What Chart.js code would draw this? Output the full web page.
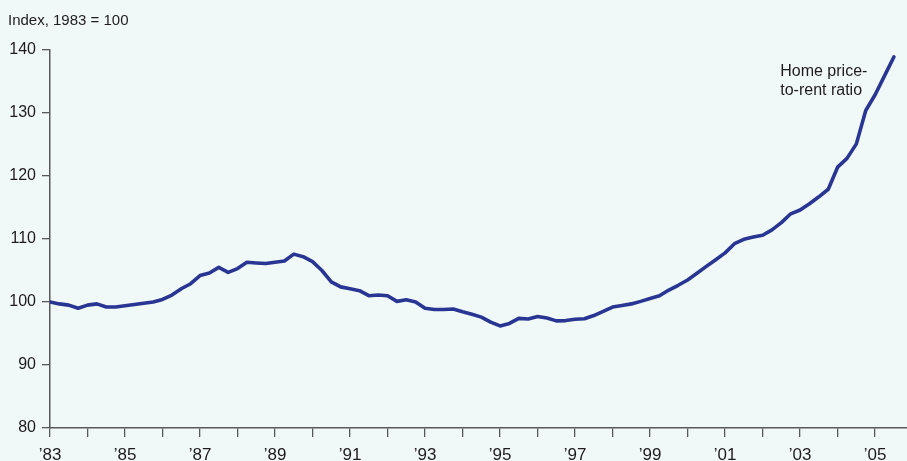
<!DOCTYPE html>
<html>
<head>
<meta charset="utf-8">
<script src="https://cdn.jsdelivr.net/npm/chart.js@4"></script>
<style>
  html, body { margin: 0; padding: 0; background: #f1f8f8; }
  #wrap { width: 907px; height: 461px; position: relative; }
</style>
</head>
<body>
<div id="wrap"><canvas id="ratioChart" width="907" height="461"></canvas></div>
<script>
// quarterly series, 1983Q1 .. 2005Q3
const startYear = 1983;
const ratioValues = [
  100.0, 99.7, 99.5, 99.0, 99.5, 99.7, 99.2, 99.2,
  99.4, 99.6, 99.8, 100.0, 100.4, 101.1, 102.1, 102.9,
  104.2, 104.6, 105.5, 104.7, 105.3, 106.3, 106.2, 106.1,
  106.3, 106.5, 107.6, 107.2, 106.4, 105.0, 103.2, 102.4,
  102.1, 101.8, 101.0, 101.1, 101.0, 100.1, 100.35, 100.0,
  99.0, 98.8, 98.8, 98.9, 98.45, 98.05, 97.6, 96.8,
  96.2, 96.6, 97.4, 97.3, 97.7, 97.45, 97.0, 97.05,
  97.25, 97.35, 97.85, 98.5, 99.2, 99.45, 99.7, 100.1,
  100.55, 101.0, 101.9, 102.65, 103.5, 104.55, 105.65, 106.7,
  107.8, 109.25, 109.95, 110.3, 110.6, 111.45, 112.6, 114.0,
  114.6, 115.6, 116.7, 117.9, 121.4, 122.8, 125.1, 130.4,
  132.9, 135.9, 138.9
];
const yTicks = [80, 90, 100, 110, 120, 130, 140];
const xTickYears = [1983, 1984, 1985, 1986, 1987, 1988, 1989, 1990, 1991, 1992, 1993, 1994,
  1995, 1996, 1997, 1998, 1999, 2000, 2001, 2002, 2003, 2004, 2005];
const unitLabel = 'Index, 1983 = 100';
const seriesLabel = ['Home price-', 'to-rent ratio'];

const font = "'Liberation Sans Narrow', 'Liberation Sans', Arial, sans-serif";
const ink = '#1f1c1d';
const axisGray = '#58595b';

const points = ratioValues.map((v, i) => ({ x: startYear + i / 4, y: v }));

const textPlugin = {
  id: 'textPlugin',
  afterDraw(chart) {
    const ctx = chart.ctx;
    const xs = chart.scales.x, ys = chart.scales.y;
    ctx.save();
    ctx.fillStyle = ink;
    ctx.textAlign = 'left';
    ctx.textBaseline = 'alphabetic';
    ctx.font = '15px ' + font;
    ctx.fillText(unitLabel, 8, 25);
    ctx.font = '16px ' + font;
    const lx = xs.getPixelForValue(2002.47);
    const ly = ys.getPixelForValue(135.9);
    ctx.fillText(seriesLabel[0], lx, ly);
    ctx.fillText(seriesLabel[1], lx, ly + 19);
    ctx.restore();
  }
};

new Chart(document.getElementById('ratioChart'), {
  type: 'line',
  data: {
    datasets: [{
      label: seriesLabel.join(''),
      data: points,
      borderColor: '#283593',
      borderWidth: 3.6,
      borderJoinStyle: 'round',
      borderCapStyle: 'round',
      pointRadius: 0,
      tension: 0,
      fill: false
    }]
  },
  options: {
    responsive: false,
    animation: false,
    devicePixelRatio: 1,
    layout: { padding: { top: 50, right: 0, left: 0, bottom: 0 } },
    plugins: { legend: { display: false }, tooltip: { enabled: false } },
    scales: {
      x: {
        type: 'linear',
        min: 1983,
        max: 2005.85,
        afterBuildTicks: (scale) => {
          scale.ticks = xTickYears.map(v => ({ value: v }));
        },
        afterFit: (scale) => { scale.height = 33; },
        border: { display: true, color: axisGray, width: 1.5 },
        grid: { drawOnChartArea: false, drawTicks: true, tickLength: 9, color: axisGray, lineWidth: 1.3 },
        ticks: {
          autoSkip: false,
          maxRotation: 0,
          padding: 8,
          color: ink,
          font: { family: font, size: 17 },
          callback: (v) => (v % 2 === 1) ? '\u2019' + String(v).slice(2) : ''
        }
      },
      y: {
        min: yTicks[0],
        max: yTicks[yTicks.length - 1],
        afterBuildTicks: (scale) => {
          scale.ticks = yTicks.map(v => ({ value: v }));
        },
        afterFit: (scale) => { scale.width = 50; },
        border: { display: true, color: axisGray, width: 1.5 },
        grid: { drawOnChartArea: false, drawTicks: true, tickLength: 8, color: axisGray, lineWidth: 1.3 },
        ticks: {
          padding: 6,
          color: ink,
          font: { family: font, size: 16 }
        }
      }
    }
  },
  plugins: [textPlugin]
});
</script>
</body>
</html>
